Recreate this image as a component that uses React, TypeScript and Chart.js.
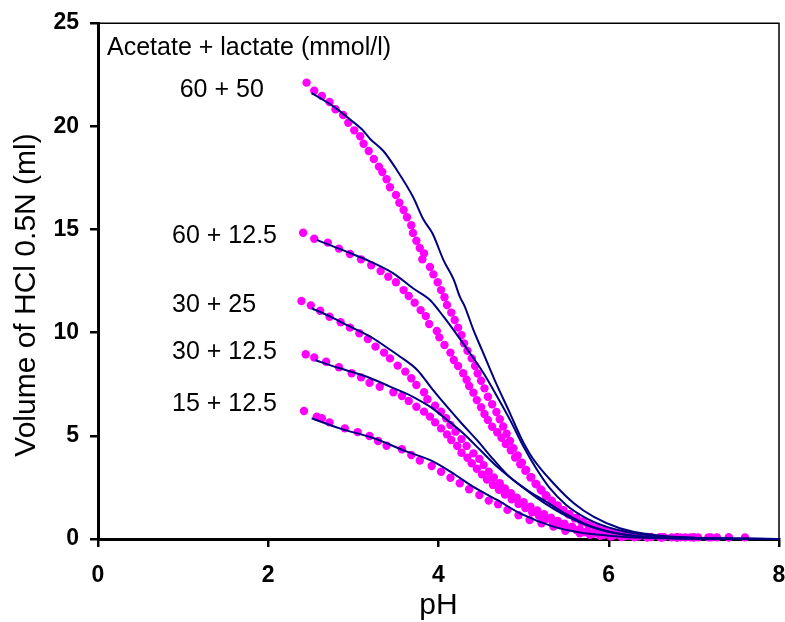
import React, { useEffect, useRef } from "react";
import { Chart, registerables } from "chart.js";

Chart.register(...registerables);

type P = [number, number];

// Measured points (pH, ml HCl 0.5N)
const obs60_50: P[] = [[2.45,22.11],[2.54,21.72],[2.63,21.46],[2.72,21.17],[2.79,20.82],[2.88,20.54],[2.94,20.17],[3.01,19.8],[3.08,19.51],[3.12,19.15],[3.18,18.8],[3.24,18.41],[3.30,18.04],[3.34,17.78],[3.39,17.43],[3.43,17.04],[3.50,16.67],[3.54,16.29],[3.59,15.94],[3.63,15.59],[3.68,15.2],[3.70,14.83],[3.74,14.45],[3.78,14.1],[3.83,13.84],[3.81,13.55],[3.90,13.18],[3.94,12.82],[3.99,12.44],[4.03,12.06],[4.07,11.71],[4.10,11.34],[4.15,10.97],[4.19,10.61],[4.23,10.24],[4.27,9.88],[4.30,9.48],[4.34,9.12],[4.39,8.75],[4.43,8.38],[4.46,8.02],[4.50,7.67],[4.54,7.30],[4.58,6.89],[4.63,6.53],[4.68,6.15],[4.72,5.8],[4.76,5.45],[4.80,5.1],[4.84,4.75],[4.88,4.4],[4.93,4.05],[4.98,3.7],[5.03,3.35],[5.09,3.0],[5.15,2.65],[5.21,2.35],[5.27,2.08],[5.33,1.82],[5.39,1.6],[5.46,1.38],[5.53,1.18],[5.60,1.0],[5.68,0.84],[5.76,0.68],[5.84,0.55],[5.92,0.42],[6.0,0.32],[6.1,0.22],[6.2,0.16],[6.3,0.12],[6.45,0.1],[6.6,0.09],[6.8,0.08],[7.0,0.08],[7.2,0.08],[7.41,0.08],[7.6,0.08]];
const obs60_12: P[] = [[2.41,14.84],[2.54,14.55],[2.70,14.36],[2.83,14.07],[2.96,13.81],[3.09,13.55],[3.21,13.26],[3.32,12.98],[3.41,12.71],[3.50,12.44],[3.59,12.06],[3.65,11.77],[3.72,11.45],[3.79,11.09],[3.85,10.8],[3.89,10.42],[3.98,10.08],[4.01,9.77],[4.07,9.4],[4.14,9.03],[4.18,8.67],[4.23,8.38],[4.29,8.03],[4.33,7.72],[4.36,7.41],[4.41,7.09],[4.45,6.73],[4.50,6.38],[4.54,6.06],[4.58,5.77],[4.63,5.44],[4.69,5.17],[4.74,4.9],[4.79,4.6],[4.85,4.3],[4.90,3.95],[4.96,3.62],[5.02,3.3],[5.08,2.98],[5.14,2.68],[5.20,2.4],[5.26,2.12],[5.33,1.86],[5.40,1.62],[5.47,1.4],[5.54,1.2],[5.62,1.02],[5.70,0.85],[5.78,0.7],[5.86,0.56],[5.95,0.44],[6.04,0.33],[6.13,0.24],[6.25,0.17],[6.35,0.13],[6.5,0.1],[6.65,0.09],[6.84,0.08],[7.05,0.08],[7.27,0.08],[7.41,0.08]];
const obs30_25: P[] = [[2.39,11.53],[2.50,11.32],[2.61,11.06],[2.72,10.77],[2.85,10.5],[2.96,10.24],[3.07,9.97],[3.17,9.69],[3.26,9.32],[3.36,9.03],[3.43,8.75],[3.52,8.4],[3.61,8.11],[3.68,7.79],[3.74,7.46],[3.83,7.11],[3.87,6.77],[3.96,6.46],[4.03,6.17],[4.09,5.85],[4.14,5.52],[4.20,5.2],[4.27,4.84],[4.33,4.51],[4.41,4.15],[4.48,3.88],[4.53,3.58],[4.59,3.26],[4.65,2.98],[4.72,2.7],[4.78,2.45],[4.85,2.22],[4.92,2.0],[5.0,1.78],[5.08,1.57],[5.16,1.38],[5.24,1.2],[5.32,1.03],[5.40,0.88],[5.48,0.74],[5.57,0.6],[5.66,0.48],[5.75,0.38],[5.85,0.29],[5.95,0.22],[6.05,0.17],[6.18,0.13],[6.3,0.1],[6.45,0.09],[6.62,0.08],[6.8,0.08],[7.0,0.08],[7.17,0.08]];
const obs30_12: P[] = [[2.44,8.95],[2.54,8.79],[2.68,8.59],[2.83,8.32],[2.98,8.03],[3.09,7.83],[3.19,7.57],[3.31,7.38],[3.47,7.11],[3.57,6.93],[3.65,6.69],[3.74,6.41],[3.83,6.17],[3.90,5.93],[3.96,5.65],[4.03,5.36],[4.10,5.07],[4.15,4.8],[4.22,4.51],[4.27,4.18],[4.34,3.94],[4.39,3.67],[4.45,3.4],[4.51,3.13],[4.57,2.88],[4.64,2.62],[4.71,2.38],[4.78,2.15],[4.86,1.92],[4.94,1.7],[5.02,1.5],[5.10,1.3],[5.18,1.13],[5.26,0.97],[5.34,0.82],[5.43,0.68],[5.52,0.55],[5.62,0.43],[5.72,0.33],[5.82,0.25],[5.93,0.19],[6.04,0.15],[6.16,0.12],[6.3,0.1],[6.45,0.09],[6.62,0.08],[6.8,0.08],[6.96,0.08]];
const obs15_12: P[] = [[2.42,6.2],[2.57,5.93],[2.63,5.85],[2.72,5.65],[2.90,5.36],[3.05,5.18],[3.19,4.99],[3.29,4.75],[3.39,4.52],[3.57,4.35],[3.68,4.07],[3.78,3.8],[3.92,3.54],[4.03,3.26],[4.14,2.97],[4.25,2.7],[4.36,2.41],[4.48,2.13],[4.59,1.86],[4.70,1.68],[4.81,1.41],[4.94,1.15],[5.07,0.92],[5.21,0.76],[5.35,0.6],[5.49,0.4],[5.66,0.28],[5.78,0.2],[5.9,0.15],[6.02,0.12],[6.15,0.1],[6.3,0.09],[6.45,0.08],[6.62,0.08],[6.74,0.08],[6.9,0.08]];

// Model curves
const fit60_50: P[] = [[2.51,21.6],[2.77,20.95],[2.96,20.33],[3.10,19.85],[3.20,19.37],[3.35,18.81],[3.51,17.88],[3.70,16.58],[3.82,15.5],[3.93,14.8],[4.06,13.5],[4.18,12.55],[4.25,11.74],[4.31,11.25],[4.41,10.13],[4.51,9.16],[4.66,7.7],[4.84,6.09],[4.97,4.9],[5.1,3.95],[5.35,2.7],[5.59,1.73],[5.82,1.08],[6.13,0.52],[6.53,0.19],[7.0,0.06],[8.0,0.0]];
const fit60_12: P[] = [[2.57,14.49],[2.92,13.92],[3.20,13.44],[3.47,12.87],[3.70,12.15],[3.90,11.58],[4.06,10.77],[4.22,9.88],[4.37,9.0],[4.53,8.03],[4.69,6.89],[4.84,5.77],[5.0,4.47],[5.15,3.4],[5.3,2.5],[5.5,1.65],[5.75,0.98],[6.05,0.5],[6.4,0.22],[6.9,0.07],[8.0,0.0]];
const fit30_25: P[] = [[2.51,11.18],[2.73,10.77],[2.92,10.37],[3.20,9.8],[3.35,9.4],[3.55,8.83],[3.75,8.19],[3.92,7.3],[4.10,6.41],[4.27,5.61],[4.45,4.8],[4.65,3.83],[4.85,2.95],[5.05,2.35],[5.25,1.85],[5.5,1.2],[5.75,0.68],[5.98,0.38],[6.3,0.16],[6.7,0.05],[8.0,0.0]];
const fit30_12: P[] = [[2.55,8.67],[2.84,8.27],[3.16,7.86],[3.43,7.38],[3.70,6.89],[3.90,6.41],[4.10,5.77],[4.29,5.12],[4.49,4.31],[4.69,3.5],[4.96,2.6],[5.25,1.73],[5.5,1.12],[5.75,0.65],[5.98,0.36],[6.3,0.15],[6.7,0.05],[8.0,0.0]];
const fit15_12: P[] = [[2.51,5.85],[2.84,5.36],[3.24,4.88],[3.63,4.23],[3.94,3.75],[4.20,3.1],[4.40,2.55],[4.69,1.89],[4.96,1.24],[5.35,0.6],[5.66,0.32],[5.98,0.17],[6.3,0.07],[7.0,0.02],[8.0,0.0]];

const observed = [obs60_50, obs60_12, obs30_25, obs30_12, obs15_12];
const fitted = [fit60_50, fit60_12, fit30_25, fit30_12, fit15_12];

const seriesLabels = ["60 + 50", "60 + 12.5", "30 + 25", "30 + 12.5", "15 + 12.5"];
const labelPH = [0.96, 0.87, 0.87, 0.87, 0.87];
const labelVol = [21.75, 14.68, 11.34, 9.06, 6.54];
const legendTitle = "Acetate + lactate (mmol/l)";
const legendTitlePH = 0.106;
const legendTitleVol = 23.79;

const xTitle = "pH";
const yTitle = "Volume of HCl 0.5N (ml)";
const xMin = 0, xMax = 8, xStep = 2;
const yMin = 0, yMax = 25, yStep = 5;

const FONT = 'Arial, "Liberation Sans", Helvetica, sans-serif';
const DOT = "#FF00FF";
const NAVY = "#000080";

const textPlugin = {
  id: "textPlugin",
  beforeDatasetsDraw(chart: any) {
    const { ctx, chartArea } = chart;
    ctx.save();
    ctx.strokeStyle = "#000";
    ctx.lineWidth = 1.5;
    ctx.beginPath();
    ctx.moveTo(chartArea.left, chartArea.top + 0.25);
    ctx.lineTo(chartArea.right, chartArea.top + 0.25);
    ctx.lineTo(chartArea.right, chartArea.bottom);
    ctx.stroke();
    ctx.restore();
  },
  afterDraw(chart: any) {
    const { ctx, chartArea, scales } = chart;
    const xs = scales.x, ys = scales.y;
    ctx.save();
    ctx.fillStyle = "#000";
    ctx.font = `25px ${FONT}`;
    ctx.textBaseline = "middle";
    ctx.textAlign = "left";
    ctx.fillText(legendTitle, xs.getPixelForValue(legendTitlePH), ys.getPixelForValue(legendTitleVol));
    seriesLabels.forEach((t, i) => {
      ctx.fillText(t, xs.getPixelForValue(labelPH[i]), ys.getPixelForValue(labelVol[i]));
    });
    // axis titles
    ctx.font = `30px ${FONT}`;
    ctx.textAlign = "center";
    ctx.fillText(xTitle, (chartArea.left + chartArea.right) / 2, 606);
    ctx.translate(27, (chartArea.top + chartArea.bottom) / 2 + 14);
    ctx.rotate(-Math.PI / 2);
    ctx.fillText(yTitle, 0, 0);
    ctx.restore();
  },
};

export default function App() {
  const ref = useRef<HTMLCanvasElement | null>(null);
  useEffect(() => {
    document.body.style.margin = "0";
    if (!ref.current) return;
    const datasets: any[] = [];
    fitted.forEach((d, i) => {
      datasets.push({
        label: "fit " + seriesLabels[i],
        data: d.map(([x, y]) => ({ x, y })),
        showLine: true,
        borderColor: NAVY,
        borderWidth: 2,
        pointRadius: 0,
        cubicInterpolationMode: "monotone",
        clip: false,
        order: 0,
      });
    });
    observed.forEach((d, i) => {
      datasets.push({
        label: seriesLabels[i],
        data: d.map(([x, y]) => ({ x, y })),
        showLine: false,
        backgroundColor: DOT,
        borderWidth: 0,
        pointRadius: 4.2,
        clip: false,
        order: 1,
      });
    });
    const chart = new Chart(ref.current, {
      type: "scatter",
      data: { datasets },
      options: {
        animation: false,
        responsive: false,
        events: [],
        layout: { padding: { top: 23, right: 6, left: 0, bottom: 0 } },
        plugins: { legend: { display: false }, tooltip: { enabled: false } },
        scales: {
          x: {
            type: "linear",
            min: xMin,
            max: xMax,
            ticks: { stepSize: xStep, color: "#000", padding: 15, font: { family: FONT, size: 23, weight: "bold" } },
            grid: { drawOnChartArea: false, drawTicks: true, tickLength: 8, color: "#000", lineWidth: 2.5 },
            border: { display: true, color: "#000", width: 3 },
            afterFit: (s: any) => { s.height = 83; s.paddingLeft = 0; s.paddingRight = 0; },
          },
          y: {
            type: "linear",
            min: yMin,
            max: yMax,
            ticks: { stepSize: yStep, color: "#000", padding: 11, font: { family: FONT, size: 23, weight: "bold" } },
            grid: { drawOnChartArea: false, drawTicks: true, tickLength: 8, color: "#000", lineWidth: 2.5 },
            border: { display: true, color: "#000", width: 3 },
            afterFit: (s: any) => { s.width = 98; s.paddingTop = 0; s.paddingBottom = 0; },
          },
        },
      } as any,
      plugins: [textPlugin],
    });
    return () => chart.destroy();
  }, []);
  return (
    <div style={{ width: 785, height: 622 }}>
      <canvas ref={ref} width={785} height={622} style={{ display: "block" }} />
    </div>
  );
}
